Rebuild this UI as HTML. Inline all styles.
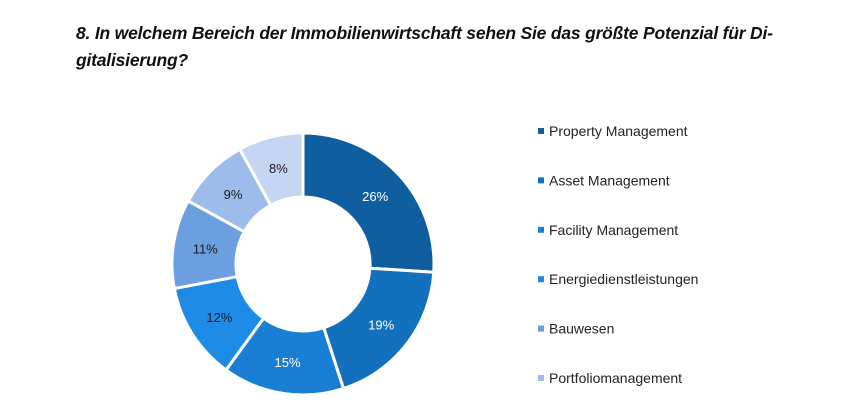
<!DOCTYPE html>
<html><head><meta charset="utf-8"><style>
body{margin:0;width:853px;height:418px;background:#fff;overflow:hidden;font-family:"Liberation Sans",Arial,sans-serif}
#title{position:absolute;left:76px;top:20px;width:720px;font-size:17.5px;font-weight:bold;font-style:italic;line-height:27px;color:#111;letter-spacing:-0.2px}
</style></head><body>
<div id="title">8. In welchem Bereich der Immobilienwirtschaft sehen Sie das größte Potenzial für Di-<br>gitalisierung?</div>
<svg id="chart" width="853" height="418" style="position:absolute;left:0;top:0"></svg>
<script>
const categories=["Property Management","Asset Management","Facility Management","Energiedienstleistungen","Bauwesen","Portfoliomanagement"];
const values=[26,19,15,12,11,9,8];
const labels=["26%","19%","15%","12%","11%","9%","8%"];
const legendLabels=["Property Management","Asset Management","Facility Management","Energiedienstleistungen","Bauwesen","Portfoliomanagement"];
const colors=["#0f5fa0","#1370bd","#1a7fd4","#1e8ce6","#6b9fe0","#9dbcec","#c5d6f3"];
const textColors=["#fff","#fff","#fff","#1a1a1a","#1a1a1a","#1a1a1a","#1a1a1a"];
const NS="http://www.w3.org/2000/svg";
const svg=document.getElementById('chart');
const cx=303,cy=264,R=131,r=67;
const total=values.reduce((a,b)=>a+b,0);
function pt(a,rad){return [cx+rad*Math.sin(a),cy-rad*Math.cos(a)];}
let acc=0;
values.forEach((v,i)=>{
  const a0=acc/total*2*Math.PI,a1=(acc+v)/total*2*Math.PI;acc+=v;
  const large=(a1-a0)>Math.PI?1:0;
  const p0=pt(a0,R),p1=pt(a1,R),q1=pt(a1,r),q0=pt(a0,r);
  const p=document.createElementNS(NS,'path');
  p.setAttribute('d',`M${p0[0]},${p0[1]}A${R},${R} 0 ${large} 1 ${p1[0]},${p1[1]}L${q1[0]},${q1[1]}A${r},${r} 0 ${large} 0 ${q0[0]},${q0[1]}Z`);
  p.setAttribute('fill',colors[i]);p.setAttribute('stroke','#fff');p.setAttribute('stroke-width','3');
  
  
  svg.appendChild(p);
  const m=pt((a0+a1)/2,(R+r)/2);
  const t=document.createElementNS(NS,'text');
  t.setAttribute('x',m[0]);t.setAttribute('y',m[1]+5);t.setAttribute('text-anchor','middle');
  t.setAttribute('font-size','13');t.setAttribute('fill',textColors[i]);
  t.textContent=labels[i];
  
  
  svg.appendChild(t);
});
legendLabels.forEach((name,i)=>{
  const y=131+i*49.4;
  const g=document.createElementNS(NS,'g');
  
  
  const s=document.createElementNS(NS,'rect');
  s.setAttribute('x',538);s.setAttribute('y',y-3);s.setAttribute('width',6);s.setAttribute('height',6);
  s.setAttribute('fill',colors[i]);
  const t=document.createElementNS(NS,'text');
  t.setAttribute('x',549);t.setAttribute('y',y+5);t.setAttribute('font-size','14');t.setAttribute('fill','#222');
  t.textContent=name;
  g.appendChild(s);g.appendChild(t);svg.appendChild(g);
});
</script>
</body></html>
